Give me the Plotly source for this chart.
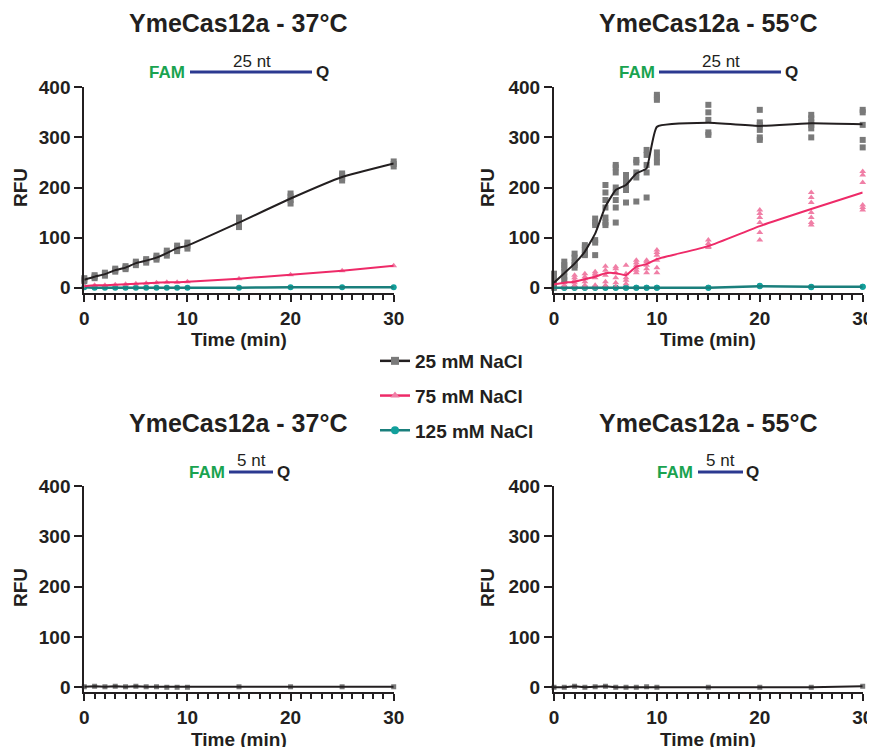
import plotly.graph_objects as go

W, H = 875, 747
# the page body adds an 8px margin; build the figure so it fills the rest of the window
OX, OY = 8, 8
FW, FH = W - OX, H - OY

times = [0, 1, 2, 3, 4, 5, 6, 7, 8, 9, 10, 15, 20, 25, 30]

# ---- 37°C, 25 nt reporter (mean values) ----
tl_25 = [16, 22, 27, 35, 40, 49, 54, 60, 69, 79, 84, 130, 178, 221, 248]
tl_75 = [3, 5, 5, 6, 7, 8, 9, 10, 11, 11, 12, 18, 26, 34, 44]
tl_125 = [1, 0, 0, 0, 0, 0, 0, 0, 0, 0, 0, 0, 1, 1, 1]
# replicate spread (37°C, 25 nt, 25 mM)
tl_25_reps = [
    [13, 16, 19], [19, 22, 25], [24, 27, 30], [32, 35, 38], [37, 40, 43],
    [45, 49, 52], [50, 54, 57], [56, 60, 64], [64, 69, 74], [73, 79, 84],
    [78, 84, 90], [121, 128, 135, 140], [168, 175, 182, 188], [214, 219, 224, 228], [242, 247, 252],
]

# ---- 55°C, 25 nt reporter ----
tr_25 = [10, 29, 48, 72, 108, 162, 195, 205, 228, 238, 321, 329, 323, 328, 326]
tr_75 = [7, 10, 12, 17, 22, 29, 29, 25, 42, 47, 57, 83, 123, 157, 190]
tr_125 = [0, 0, 0, 0, 0, 0, 0, 0, 0, 0, 0, 0, 3, 2, 2]
tr_25_reps = [
    [28, 22, 15, 5, 2, 0],
    [52, 45, 40, 32, 22, 15],
    [68, 60, 50, 45, 40],
    [85, 80, 75, 68, 65],
    [138, 130, 125, 95, 90, 65],
    [205, 190, 175, 160, 140, 130, 125],
    [245, 240, 230, 200, 190, 175, 160, 130],
    [225, 215, 205, 195, 170],
    [255, 250, 230, 220, 172],
    [275, 265, 245, 230, 180],
    [385, 380, 375, 270, 260, 250],
    [365, 350, 335, 310, 305],
    [355, 330, 325, 315, 300, 295],
    [345, 338, 330, 325, 318, 300],
    [355, 350, 325, 295, 280],
]
tr_75_reps = [
    [10, 5, 2, 0],
    [15, 10, 5, 0],
    [25, 20, 15, 10, 5, 0],
    [28, 22, 18, 12, 5, 0],
    [32, 28, 25, 20, 5, 0],
    [43, 35, 25, 12, 5, 2],
    [42, 38, 30, 20, 10, 2],
    [45, 28, 20, 15, 8],
    [55, 50, 45, 40, 35, 30],
    [55, 52, 45, 38, 30],
    [75, 70, 65, 55, 40, 30],
    [95, 88, 82, 80],
    [155, 148, 140, 130, 110, 95],
    [190, 180, 170, 150, 140, 130, 125],
    [232, 225, 210, 165, 160, 155],
]
tr_125_reps = [
    [0, 0], [0, 0], [0, 0], [0, 0], [0, 0], [0, 0], [0, 0], [0, 0],
    [0, 0], [0, 0], [0, 0], [0, 0], [4, 3], [2, 1], [2, 2],
]

# ---- 5 nt reporter (both temperatures) ----
bl_25 = [1, 2, 1, 2, 1, 2, 1, 1, 0, 0, 0, 1, 1, 1, 1]
br_25 = [0, 0, 2, 0, 1, 2, 0, 0, 0, 1, 0, 0, 0, 0, 2]

series_names = ["25 mM NaCl", "75 mM NaCl", "125 mM NaCl"]
panel_titles = ["YmeCas12a - 37°C", "YmeCas12a - 55°C", "YmeCas12a - 37°C", "YmeCas12a - 55°C"]
reporter_len = ["25 nt", "25 nt", "5 nt", "5 nt"]
y_ticks = [0, 100, 200, 300, 400]
x_ticks = [0, 10, 20, 30]

# ---- styles ----
FONT = "Liberation Sans, Arial, Helvetica, sans-serif"
DARK = "#231f20"
GRAY_M = "#7a7a7a"
PINK_M = "#f07fa6"
PINK_L = "#ee2a68"
TEAL_M = "#12a09c"
TEAL_L = "#1a7f7c"
GREEN = "#1aa350"
NAVY = "#2b3990"

def px(x):
    return (x - OX) / FW

def py(y):
    return 1 - (y - OY) / FH

fig = go.Figure()

dom = {
    1: dict(x=(84.3, 393.7), y=(87.3, 292.7)),
    2: dict(x=(554.0, 862.7), y=(87.3, 292.7)),
    3: dict(x=(84.3, 393.7), y=(486.0, 692.3)),
    4: dict(x=(554.0, 862.7), y=(486.0, 692.3)),
}

def flat(reps):
    xs, ys = [], []
    for t, r in zip(times, reps):
        for v in r:
            xs.append(t)
            ys.append(v)
    return xs, ys

def ax(i):
    return ("x" if i == 1 else f"x{i}"), ("y" if i == 1 else f"y{i}")

def add_markers(i, xs, ys, symbol, color, size):
    xa, ya = ax(i)
    fig.add_trace(go.Scatter(x=xs, y=ys, mode="markers", xaxis=xa, yaxis=ya,
                             marker=dict(symbol=symbol, color=color, size=size, line=dict(width=0)),
                             showlegend=False, cliponaxis=False, hoverinfo="skip"))

def add_line(i, ys, color, width, shape="spline"):
    xa, ya = ax(i)
    fig.add_trace(go.Scatter(x=times, y=ys, mode="lines", xaxis=xa, yaxis=ya,
                             line=dict(color=color, width=width, shape=shape, smoothing=0.4),
                             showlegend=False, cliponaxis=False, hoverinfo="skip"))

# Panel 1: 37°C, 25 nt
add_markers(1, times, tl_125, "circle", TEAL_M, 6)
add_markers(1, times, tl_75, "triangle-up", PINK_M, 6)
x1, y1 = flat(tl_25_reps)
add_markers(1, x1, y1, "square", GRAY_M, 6)
add_line(1, tl_125, TEAL_L, 2.5)
add_line(1, tl_75, PINK_L, 2)
add_line(1, tl_25, DARK, 2)

# Panel 2: 55°C, 25 nt
x2, y2 = flat(tr_125_reps)
add_markers(2, x2, y2, "circle", TEAL_M, 6)
x2, y2 = flat(tr_75_reps)
add_markers(2, x2, y2, "triangle-up", PINK_M, 6)
x2, y2 = flat(tr_25_reps)
add_markers(2, x2, y2, "square", GRAY_M, 6)
add_line(2, tr_125, TEAL_L, 2.5)
add_line(2, tr_75, PINK_L, 2)
add_line(2, tr_25, DARK, 2)

# Panels 3, 4: 5 nt
for i, ys in [(3, bl_25), (4, br_25)]:
    add_markers(i, times, ys, "square", GRAY_M, 5)
    add_line(i, ys, DARK, 2, shape="linear")

# legend-only traces
for name, sym, mc, lc in [(series_names[0], "square", GRAY_M, DARK),
                          (series_names[1], "triangle-up", PINK_M, PINK_L),
                          (series_names[2], "circle", TEAL_M, TEAL_L)]:
    fig.add_trace(go.Scatter(x=[None], y=[None], mode="lines+markers", name=name,
                             legendgroup=name,
                             marker=dict(symbol=sym, color=mc, size=8),
                             line=dict(color=lc, width=2.5), showlegend=True))

layout = dict(
    template="none",
    width=FW, height=FH,
    margin=dict(l=0, r=0, t=0, b=0, pad=0, autoexpand=False),
    paper_bgcolor="white", plot_bgcolor="white",
    font=dict(family=FONT, color=DARK, size=16),
    showlegend=True,
    legend=dict(x=px(375), y=py(342), xanchor="left", yanchor="top",
                font=dict(family=FONT, size=19, color=DARK, weight="bold"),
                tracegroupgap=7, itemwidth=30, bgcolor="rgba(0,0,0,0)", borderwidth=0),
)

for i, d in dom.items():
    xk = "xaxis" if i == 1 else f"xaxis{i}"
    yk = "yaxis" if i == 1 else f"yaxis{i}"
    xa, ya = ax(i)
    layout[xk] = dict(
        domain=[px(d["x"][0]), px(d["x"][1])], anchor=ya, range=[0, 30], automargin=False,
        showgrid=False, zeroline=False, showline=True, linecolor=DARK, linewidth=2,
        ticks="outside", ticklen=7, tickwidth=2, tickcolor=DARK,
        tickvals=x_ticks, ticktext=[str(v) for v in x_ticks],
        tickfont=dict(family=FONT, size=19, color=DARK, weight="bold"),
        minor=dict(dtick=1, tick0=0, ticks="outside", ticklen=5, tickwidth=1.5, tickcolor=DARK, showgrid=False),
        fixedrange=True,
    )
    layout[yk] = dict(
        domain=[py(d["y"][1]), py(d["y"][0])], anchor=xa, range=[-10, 400], automargin=False,
        showgrid=False, zeroline=False, showline=True, linecolor=DARK, linewidth=2,
        ticks="outside", ticklen=8, tickwidth=2, tickcolor=DARK,
        tickvals=y_ticks, ticktext=[str(v) for v in y_ticks],
        tickfont=dict(family=FONT, size=19, color=DARK, weight="bold"),
        fixedrange=True,
    )

fig.update_layout(**layout)

annotations = []
shapes = []

title_pos = [(238, 23), (708, 23), (238, 423), (708, 423)]
for (cx, cy), t in zip(title_pos, panel_titles):
    annotations.append(dict(x=px(cx), y=py(cy), xref="paper", yref="paper", text=t, showarrow=False,
                            xanchor="center", yanchor="middle",
                            font=dict(family=FONT, size=25, color=DARK, weight="bold")))

for cx, cy in [(20, 188), (487, 188), (20, 588), (487, 588)]:
    annotations.append(dict(x=px(cx), y=py(cy), xref="paper", yref="paper", text="RFU", showarrow=False,
                            textangle=-90, xanchor="center", yanchor="middle",
                            font=dict(family=FONT, size=19, color=DARK, weight="bold")))
for cx, cy in [(239, 340), (708, 340), (239, 739), (708, 739)]:
    annotations.append(dict(x=px(cx), y=py(cy), xref="paper", yref="paper", text="Time (min)", showarrow=False,
                            xanchor="center", yanchor="middle",
                            font=dict(family=FONT, size=19, color=DARK, weight="bold")))

diagrams = [
    (187, 190, 312, 314, 72, 252, 61),
    (657, 659, 781, 783, 72, 721, 61),
    (227, 229, 273, 275, 472, 251, 460),
    (695, 698, 743, 744, 472, 720, 460),
]
for (fr, l0, l1, ql, yy, ncx, ncy), lab in zip(diagrams, reporter_len):
    annotations.append(dict(x=px(fr), y=py(yy), xref="paper", yref="paper", text="FAM", showarrow=False,
                            xanchor="right", yanchor="middle",
                            font=dict(family=FONT, size=17, color=GREEN, weight="bold")))
    annotations.append(dict(x=px(ql), y=py(yy), xref="paper", yref="paper", text="Q", showarrow=False,
                            xanchor="left", yanchor="middle",
                            font=dict(family=FONT, size=17, color=DARK, weight="bold")))
    annotations.append(dict(x=px(ncx), y=py(ncy), xref="paper", yref="paper", text=lab, showarrow=False,
                            xanchor="center", yanchor="middle",
                            font=dict(family=FONT, size=17, color=DARK)))
    shapes.append(dict(type="line", xref="paper", yref="paper", x0=px(l0), x1=px(l1), y0=py(yy), y1=py(yy),
                       line=dict(color=NAVY, width=3)))

fig.update_layout(annotations=annotations, shapes=shapes)

fig.write_html("out.html")
